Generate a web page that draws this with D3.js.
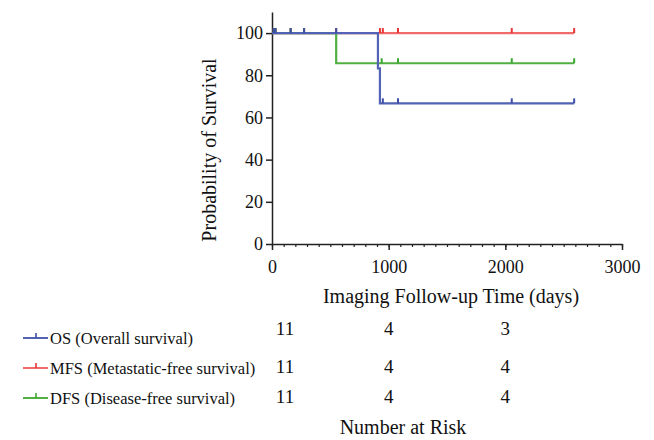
<!DOCTYPE html>
<html>
<head>
<meta charset="utf-8">
<script src="https://cdn.jsdelivr.net/npm/d3@7"></script>
<style>
  body { margin: 0; background: #fff; }
  svg { display: block; font-family: "Liberation Serif", "Times New Roman", serif; }
</style>
</head>
<body>
<div class="chart"></div>
<script>
// Kaplan-Meier steps: [day, survival %]
const osSteps = [[0, 100], [908, 83.3], [925, 66.7], [2590, 66.7]];
const mfsSteps = [[0, 100], [2590, 100]];
const dfsSteps = [[0, 100], [550, 85.7], [2590, 85.7]];

// censored observations (days)
const osCensor = [15, 30, 160, 275, 550, 950, 1080, 2055, 2590];
const mfsCensor = [15, 30, 160, 275, 550, 925, 950, 1080, 2055, 2590];
const dfsCensor = [15, 30, 160, 275, 940, 1080, 2055, 2590];

const seriesNames = ["OS (Overall survival)", "MFS (Metastatic-free survival)", "DFS (Disease-free survival)"];
const seriesColors = ["#5262b4", "#f26b6b", "#52b043"];
const censorColors = ["#3d4fa8", "#e83434", "#3aa82e"];

const riskTimes = [0, 1000, 2000];
const osRisk = [11, 4, 3];
const mfsRisk = [11, 4, 4];
const dfsRisk = [11, 4, 4];

const xTicks = [0, 1000, 2000, 3000];
const yTicks = [0, 20, 40, 60, 80, 100];

const series = [
    { name: seriesNames[0], steps: osSteps, censor: osCensor, risk: osRisk, color: seriesColors[0], tick: censorColors[0] },
    { name: seriesNames[1], steps: mfsSteps, censor: mfsCensor, risk: mfsRisk, color: seriesColors[1], tick: censorColors[1] },
    { name: seriesNames[2], steps: dfsSteps, censor: dfsCensor, risk: dfsRisk, color: seriesColors[2], tick: censorColors[2] }
];

const svg = d3.select(".chart")
    .append("svg")
    .attr("width", 654)
    .attr("height", 440);

const x = d3.scaleLinear().domain([0, 3000]).range([272, 622]);
const y = d3.scaleLinear().domain([0, 110]).range([244, 12]);

// minor ticks on x
svg.append("g")
    .attr("transform", `translate(0,${y(0)})`)
    .call(d3.axisBottom(x).tickValues(d3.range(0, 3001, 100)).tickSize(3).tickFormat(""))
    .call(g => g.select(".domain").remove())
    .call(g => g.selectAll("line").attr("stroke", "#222").attr("stroke-width", 1.2));

const xAxis = svg.append("g")
    .attr("transform", `translate(0,${y(0)})`)
    .call(d3.axisBottom(x).tickValues(xTicks).tickFormat(d3.format("d"))
        .tickSize(6).tickSizeOuter(0).tickPadding(10));

const yAxis = svg.append("g")
    .attr("transform", `translate(${x(0)},0)`)
    .call(d3.axisLeft(y).tickValues(yTicks).tickSize(6).tickSizeOuter(0).tickPadding(3));

[xAxis, yAxis].forEach(ax => {
    ax.select(".domain").attr("stroke", "#222").attr("stroke-width", 1.5);
    ax.selectAll(".tick line").attr("stroke", "#222").attr("stroke-width", 1.5);
    ax.selectAll("text")
        .attr("fill", "#111")
        .style("font-family", "Liberation Serif")
        .style("font-size", "18px");
});

const line = d3.line()
    .x(d => x(d[0]))
    .y(d => y(d[1]))
    .curve(d3.curveStepAfter);

// draw red, green, then blue on top
[series[1], series[2], series[0]].forEach(s => {
    svg.append("path")
        .datum(s.steps)
        .attr("fill", "none")
        .attr("stroke", s.color)
        .attr("stroke-width", 2.2)
        .attr("d", line);

    const last = s.steps[s.steps.length - 1];
    const level = t => {
        let v = s.steps[0][1];
        s.steps.forEach(p => { if (p[0] <= t) v = p[1]; });
        return v;
    };
    svg.append("g")
        .selectAll("line")
        .data(s.censor.filter(t => t <= last[0]))
        .join("line")
        .attr("x1", t => x(t))
        .attr("x2", t => x(t))
        .attr("y1", t => y(level(t)))
        .attr("y2", t => y(level(t)) - 5)
        .attr("stroke", s.tick)
        .attr("stroke-width", 2);
});

// axis titles
svg.append("text")
    .attr("x", 451)
    .attr("y", 303)
    .attr("text-anchor", "middle")
    .style("font-size", "20px")
    .attr("fill", "#111")
    .text("Imaging Follow-up Time (days)");

svg.append("text")
    .attr("transform", "translate(216,150) rotate(-90)")
    .attr("text-anchor", "middle")
    .style("font-size", "20px")
    .attr("fill", "#111")
    .text("Probability of Survival");

// legend + number at risk
const rowY = [344, 374, 404];
series.forEach((s, i) => {
    const g = svg.append("g");
    g.append("line")
        .attr("x1", 23).attr("x2", 48)
        .attr("y1", rowY[i] - 6).attr("y2", rowY[i] - 6)
        .attr("stroke", s.color).attr("stroke-width", 2);
    g.append("line")
        .attr("x1", 36).attr("x2", 36)
        .attr("y1", rowY[i] - 6).attr("y2", rowY[i] - 11)
        .attr("stroke", s.tick).attr("stroke-width", 1.6);
    g.append("text")
        .attr("x", 50)
        .attr("y", rowY[i])
        .style("font-size", "16.5px")
        .attr("fill", "#111")
        .text(s.name);

    g.selectAll(".risk")
        .data(s.risk)
        .join("text")
        .attr("class", "risk")
        .attr("x", (d, j) => x(riskTimes[j]) + (riskTimes[j] === 0 ? 13 : 0))
        .attr("y", rowY[i] - (i === 0 ? 9 : 1))
        .attr("text-anchor", "middle")
        .style("font-size", "19px")
        .attr("fill", "#111")
        .text(d => d);
});

svg.append("text")
    .attr("x", 403)
    .attr("y", 434)
    .attr("text-anchor", "middle")
    .style("font-size", "20px")
    .attr("fill", "#111")
    .text("Number at Risk");
</script>
</body>
</html>
